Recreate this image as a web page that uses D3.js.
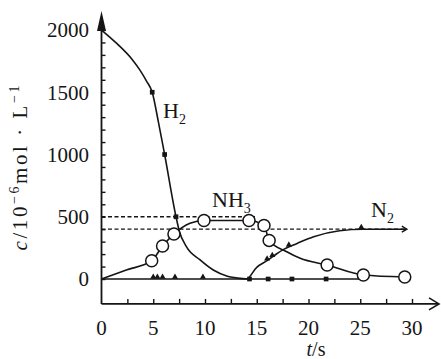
<!DOCTYPE html>
<html><head><meta charset="utf-8">
<script src="https://cdn.jsdelivr.net/npm/d3@7"></script>
<style>html,body{margin:0;padding:0;background:#fff}svg{display:block}</style>
</head><body><div id="chart"></div>
<script>
// ---- data ----
const tH2 = [0, 1.5, 3.0, 3.7, 4.35, 4.9, 5.5, 6.1, 7.2, 7.5, 8.2, 9.5, 10.8, 12.1, 13.4, 14.3, 16.1, 18.4, 21.7, 25];
const cH2 = [2000, 1890, 1760, 1680, 1590, 1500, 1260, 1000, 500, 390, 260, 155, 72, 24, 5, 0, 0, 0, 0, 0];
const h2MarkT = [4.9, 6.1, 7.2, 14.3, 16.1, 18.4, 21.7];
const h2MarkC = [1500, 1000, 500, 0, 0, 0, 0];

const tNH3 = [0, 2.4, 4.85, 5.9, 7.0, 8.55, 9.9, 14.25, 15.7, 16.2, 17.9, 19.2, 21.8, 25.3, 29.3];
const cNH3 = [0, 72, 147, 265, 361, 447, 470, 470, 430, 310, 219, 166, 112, 32, 16];
const nh3CircleT = [4.85, 5.9, 7.0, 9.9, 14.25, 15.7, 16.2, 21.8, 25.3, 29.3];
const nh3CircleC = [147, 265, 361, 470, 470, 430, 310, 112, 32, 16];

const tN2 = [0, 14.0, 15.0, 16.0, 16.9, 17.6, 18.9, 20.5, 23.0, 25.3, 29.5];
const cN2 = [0, 0, 94, 147, 201, 238, 286, 340, 388, 400, 400];
const n2MarkT = [5.0, 5.4, 5.9, 7.1, 9.8, 16.0, 16.5, 18.1, 25.1];
const n2MarkC = [0, 0, 0, 0, 0, 147, 175, 258, 400];

const dashLevels = [500, 400];
const dashEndT = [15, 29.5];

const yTickValues = [0,100,200,300,400,500,600,700,800,900,1000,1100,1200,1300,1400,1500,1600,1700,1800,1900,2000];
const yTickLabels = [0, 500, 1000, 1500, 2000];
const xTickValues = [2.5,5,7.5,10,12.5,15,17.5,20,22.5,25,27.5,30];
const xTickLabels = [0, 5, 10, 15, 20, 25, 30];

// ---- chart ----
const FONT = "'Liberation Serif', 'DejaVu Serif', 'Times New Roman', serif";
const W = 441, H = 359;
const svg = d3.select("#chart").append("svg").attr("width", W).attr("height", H)
  .attr("font-family", FONT);
const x = d3.scaleLinear().domain([0, 30]).range([101.5, 412]);
const y = d3.scaleLinear().domain([0, 2000]).range([279, 30]);
const axisY = y(-200);
const ink = "#151515";

// x axis
const xAxis = d3.axisBottom(x).tickValues(xTickValues).tickSizeInner(-5).tickSizeOuter(0).tickFormat("");
const gx = svg.append("g").attr("transform", `translate(0,${axisY})`).call(xAxis);
gx.select(".domain").remove();
gx.selectAll(".tick line").attr("stroke", ink).attr("stroke-width", 1.4);
svg.append("line").attr("x1", x(0)).attr("x2", 439).attr("y1", axisY).attr("y2", axisY)
  .attr("stroke", ink).attr("stroke-width", 1.8);
svg.append("path").attr("d", `M429,${axisY-6}L439,${axisY}L429,${axisY+6}`)
  .attr("fill", "none").attr("stroke", ink).attr("stroke-width", 1.6);
svg.append("g").selectAll("text").data(xTickLabels).join("text")
  .attr("x", d => x(d)).attr("y", 335).attr("text-anchor", "middle")
  .attr("font-family", FONT).attr("fill", ink)
  .attr("font-size", 21).text(d => d);
const tl = svg.append("text").attr("x", 316).attr("y", 356).attr("text-anchor", "middle")
  .attr("font-family", FONT).attr("fill", ink).attr("font-size", 20);
tl.append("tspan").attr("font-style", "italic").text("t");
tl.append("tspan").text("/s");

// y axis
const yAxis = d3.axisLeft(y).tickValues(yTickValues).tickSizeInner(-4).tickSizeOuter(0).tickFormat("");
const gy = svg.append("g").attr("transform", `translate(${x(0)},0)`).call(yAxis);
gy.select(".domain").remove();
gy.selectAll(".tick line").attr("stroke", ink).attr("stroke-width", 1.4);
svg.append("line").attr("x1", x(0)).attr("x2", x(0)).attr("y1", axisY).attr("y2", 20)
  .attr("stroke", ink).attr("stroke-width", 1.8);
svg.append("path").attr("d", `M${x(0)},11L${x(0)+4.5},31L${x(0)-4.5},31Z`).attr("fill", ink);
svg.append("g").selectAll("text").data(yTickLabels).join("text")
  .attr("x", 89).attr("y", d => y(d)).attr("dy", "0.35em").attr("text-anchor", "end")
  .attr("font-family", FONT).attr("fill", ink)
  .attr("font-size", 21).text(d => d);

// y title
const yt = svg.append("text").attr("transform", "translate(27,168) rotate(-90)")
  .attr("text-anchor", "middle").attr("font-size", 21)
  .attr("font-family", FONT).attr("fill", ink)
  .attr("textLength", 165).attr("lengthAdjust", "spacing");
yt.append("tspan").attr("font-style", "italic").text("c");
yt.append("tspan").text("/10");
yt.append("tspan").attr("dy", -8).attr("font-size", 14).text("\u22126");
yt.append("tspan").attr("dy", 8).text("mol \u00b7 L");
yt.append("tspan").attr("dy", -8).attr("font-size", 14).text("\u22121");

// dashed reference lines
svg.append("g").selectAll("line").data(dashLevels).join("line")
  .attr("x1", x(0)).attr("x2", (d, i) => x(dashEndT[i]))
  .attr("y1", d => y(d)).attr("y2", d => y(d))
  .attr("stroke", ink).attr("stroke-width", 1.3).attr("stroke-dasharray", "4,2.5");

// curves
const line = d3.line().x(d => x(d[0])).y(d => y(d[1])).curve(d3.curveMonotoneX);
const draw = (ts, cs) => svg.append("path").attr("d", line(ts.map((t, i) => [t, cs[i]])))
  .attr("fill", "none").attr("stroke", ink).attr("stroke-width", 1.6);
draw(tN2, cN2);
draw(tH2, cH2);
draw(tNH3, cNH3);

// N2 end arrow
svg.append("path")
  .attr("d", `M${x(29.5)-5},${y(400)-3}L${x(29.5)},${y(400)}L${x(29.5)-5},${y(400)+3}`)
  .attr("fill", "none").attr("stroke", ink).attr("stroke-width", 1.4);

// markers
svg.append("g").selectAll("path").data(n2MarkT).join("path")
  .attr("transform", (d, i) => `translate(${x(d)},${y(n2MarkC[i]) - 2})`)
  .attr("d", d3.symbol(d3.symbolTriangle, 16)).attr("fill", ink);
svg.append("g").selectAll("path").data(h2MarkT).join("path")
  .attr("transform", (d, i) => `translate(${x(d)},${y(h2MarkC[i])})`)
  .attr("d", d3.symbol(d3.symbolSquare, 22)).attr("fill", ink);
svg.append("g").selectAll("circle").data(nh3CircleT).join("circle")
  .attr("cx", d => x(d)).attr("cy", (d, i) => y(nh3CircleC[i])).attr("r", 6)
  .attr("fill", "#fff").attr("stroke", ink).attr("stroke-width", 1.5);

// series labels
function label(px, py, main, sub) {
  const t = svg.append("text").attr("x", px).attr("y", py).attr("font-size", 22)
    .attr("font-family", FONT).attr("fill", ink);
  t.append("tspan").text(main);
  t.append("tspan").attr("dy", 6).attr("font-size", 14).text(sub);
}
label(163, 118, "H", "2");
label(212, 207, "NH", "3");
label(371, 217, "N", "2");
</script></body></html>
